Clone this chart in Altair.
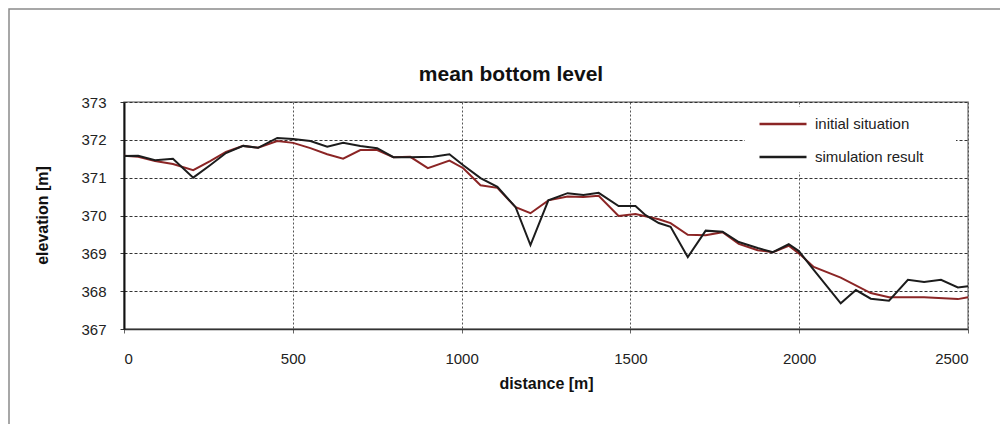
import altair as alt
import pandas as pd

# initial situation (red)
init_dist = [0, 42, 92, 145, 205, 255, 302, 353, 397, 454, 501, 552, 602, 649, 700, 750, 798, 848,
             900, 964, 1005, 1056, 1106, 1160, 1204, 1257, 1314, 1361, 1406, 1465, 1515, 1584, 1619,
             1670, 1723, 1773, 1821, 1877, 1922, 1969, 1999, 2043, 2123, 2212, 2266, 2370, 2470, 2500]
init_elev = [371.58, 371.55, 371.44, 371.36, 371.20, 371.44, 371.68, 371.84, 371.79, 371.97, 371.92,
             371.78, 371.62, 371.50, 371.73, 371.73, 371.54, 371.55, 371.25, 371.45, 371.25, 370.80,
             370.73, 370.22, 370.06, 370.40, 370.50, 370.49, 370.52, 369.99, 370.04, 369.90, 369.80,
             369.49, 369.48, 369.56, 369.25, 369.08, 369.03, 369.20, 369.00, 368.64, 368.36, 367.95,
             367.84, 367.84, 367.79, 367.84]

# simulation result (black)
sim_dist = [0, 42, 92, 145, 205, 255, 302, 353, 397, 454, 501, 552, 602, 649, 700, 750, 798, 848,
            916, 964, 1005, 1056, 1106, 1160, 1204, 1257, 1314, 1361, 1406, 1465, 1515, 1545, 1584,
            1619, 1670, 1723, 1773, 1821, 1877, 1922, 1969, 1999, 2043, 2123, 2168, 2212, 2266, 2322,
            2370, 2420, 2470, 2500]
sim_elev = [371.57, 371.58, 371.46, 371.50, 371.00, 371.33, 371.65, 371.84, 371.79, 372.05, 372.02,
            371.97, 371.82, 371.92, 371.84, 371.78, 371.54, 371.54, 371.55, 371.62, 371.33, 370.99,
            370.76, 370.22, 369.22, 370.40, 370.59, 370.54, 370.60, 370.25, 370.25, 370.01, 369.80,
            369.70, 368.90, 369.60, 369.57, 369.30, 369.14, 369.03, 369.24, 369.06, 368.56, 367.68,
            368.03, 367.80, 367.75, 368.30, 368.24, 368.30, 368.10, 368.13]

series_names = ["initial situation", "simulation result"]
series_colors = ["#8b2525", "#1c1c1c"]
x_ticks = [0, 500, 1000, 1500, 2000, 2500]
y_ticks = [367, 368, 369, 370, 371, 372, 373]
chart_title = "mean bottom level"

df = pd.concat([
    pd.DataFrame({"distance": init_dist, "elevation": init_elev, "series": series_names[0], "ord": 0}),
    pd.DataFrame({"distance": sim_dist, "elevation": sim_elev, "series": series_names[1], "ord": 1}),
], ignore_index=True)

FONT = "Liberation Sans"
one_row = alt.Data(values=[{"t": chart_title}])

frame = alt.Chart(one_row).mark_rect(
    fill="transparent", stroke="#8a8a8a", strokeWidth=1.5
).encode(
    x=alt.value(-115), x2=alt.value(900), y=alt.value(-93), y2=alt.value(400)
)

legend_bg = alt.Chart(one_row).mark_rect(fill="white").encode(
    x=alt.value(621), x2=alt.value(832), y=alt.value(5), y2=alt.value(70)
)

title = alt.Chart(one_row).mark_text(
    font=FONT, fontSize=21, fontWeight="bold", color="#111", align="center", baseline="middle"
).encode(x=alt.value(387), y=alt.value(-27), text="t:N")

lines = alt.Chart(df).mark_line(strokeWidth=2).encode(
    x=alt.X("distance:Q", scale=alt.Scale(domain=[0, 2500], nice=False),
            axis=alt.Axis(values=x_ticks, format="d", title="distance [m]", titleX=422, titleY=54,
                          titleBaseline="middle", titleAlign="center",
                          labelPadding=18, tickSize=4,
                          domainColor="#333", domainWidth=1.5, tickColor="#666",
                          gridDash=[2, 2], gridColor="#555", gridWidth=1)),
    y=alt.Y("elevation:Q", scale=alt.Scale(domain=[367, 373], nice=False, zero=False),
            axis=alt.Axis(values=y_ticks, title="elevation [m]", titleX=-82, titleY=113,
                          titleAngle=-90, titleAlign="center", titleBaseline="middle",
                          labelPadding=14, tickSize=4, domainColor="#111", domainWidth=2,
                          tickColor="#333",
                          gridDash=[3, 2], gridColor="#333", gridWidth=1.2)),
    color=alt.Color("series:N", scale=alt.Scale(domain=series_names, range=series_colors),
                    legend=alt.Legend(title=None, orient="none", legendX=621, legendY=-16,
                                      symbolType="stroke", symbolSize=2209, symbolStrokeWidth=2.5,
                                      labelFontSize=15, labelColor="#222", labelOffset=7,
                                      padding=13, rowPadding=-11)),
    order=alt.Order("ord:Q"),
    detail="series:N",
)

chart = alt.layer(frame, legend_bg, lines, title).properties(
    width=844, height=227,
    autosize=alt.AutoSizeParams(type="none"),
    padding={"left": 116, "top": 94, "right": 32, "bottom": 95},
).configure_axis(
    labelFont=FONT, labelFontSize=15, labelColor="#222",
    titleFont=FONT, titleFontSize=16, titleFontWeight="bold", titleColor="#111",
).configure_legend(
    labelFont=FONT,
).configure_view(
    stroke="#8a8a8a", strokeWidth=1.5
)

chart.save("out.html", embed_options={"renderer": "svg", "actions": False})
